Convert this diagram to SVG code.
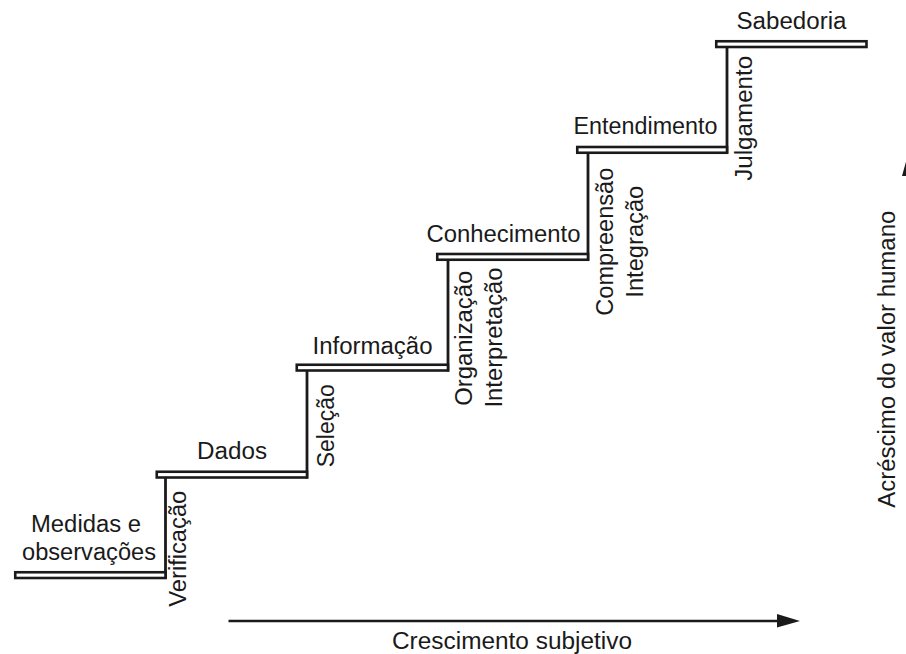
<svg xmlns="http://www.w3.org/2000/svg" width="906" height="654" viewBox="0 0 906 654">
  <style>
    .step { fill: #ffffff; stroke: #1a1a1a; stroke-width: 2.6; }
    .riser { stroke: #1a1a1a; stroke-width: 2.8; fill: none; }
    .lbl { font-family: "Liberation Sans", Arial, Helvetica, sans-serif; font-size: 23px; fill: #1a1a1a; }
    .mid { text-anchor: middle; }
    .axis { stroke: #1a1a1a; stroke-width: 2.6; fill: none; }
    .head { fill: #1a1a1a; }
  </style>

  <!-- risers joining each step to the one above -->
  <g id="connectors">
    <line class="riser" x1="165.5" y1="477.5" x2="165.5" y2="579"/>
    <line class="riser" x1="307" y1="370.5" x2="307" y2="478.5"/>
    <line class="riser" x1="448" y1="259.75" x2="448" y2="371.5"/>
    <line class="riser" x1="588" y1="152.75" x2="588" y2="260.75"/>
    <line class="riser" x1="727" y1="47" x2="727" y2="153.75"/>
  </g>

  <!-- steps -->
  <g id="step-medidas">
    <rect class="step" x="15.25" y="572.25" width="150.25" height="5.75"/>
    <text class="lbl mid" x="86" y="531.5" textLength="110" lengthAdjust="spacingAndGlyphs">Medidas e</text>
    <text class="lbl mid" x="89" y="559.5" textLength="134" lengthAdjust="spacingAndGlyphs">observações</text>
  </g>
  <g id="step-dados">
    <rect class="step" x="156.75" y="471.75" width="150.25" height="5.75"/>
    <text class="lbl mid" x="232" y="459" textLength="70" lengthAdjust="spacingAndGlyphs">Dados</text>
  </g>
  <g id="step-informacao">
    <rect class="step" x="296.75" y="364.75" width="151.25" height="5.75"/>
    <text class="lbl mid" x="372.5" y="354" textLength="120" lengthAdjust="spacingAndGlyphs">Informação</text>
  </g>
  <g id="step-conhecimento">
    <rect class="step" x="437.25" y="254" width="150.75" height="5.75"/>
    <text class="lbl mid" x="503.5" y="242" textLength="154" lengthAdjust="spacingAndGlyphs">Conhecimento</text>
  </g>
  <g id="step-entendimento">
    <rect class="step" x="577.25" y="147" width="149.75" height="5.75"/>
    <text class="lbl mid" x="645.5" y="134" textLength="144" lengthAdjust="spacingAndGlyphs">Entendimento</text>
  </g>
  <g id="step-sabedoria">
    <rect class="step" x="716.25" y="41.25" width="150.25" height="5.75"/>
    <text class="lbl mid" x="791.5" y="29.3" textLength="110" lengthAdjust="spacingAndGlyphs">Sabedoria</text>
  </g>

  <!-- transition labels along the risers -->
  <g id="riser-verificacao">
    <text class="lbl mid" transform="translate(186,548.7) rotate(-90)" textLength="116" lengthAdjust="spacingAndGlyphs">Verificação</text>
  </g>
  <g id="riser-selecao">
    <text class="lbl mid" transform="translate(333.5,425.8) rotate(-90)" textLength="83" lengthAdjust="spacingAndGlyphs">Seleção</text>
  </g>
  <g id="riser-organizacao">
    <text class="lbl mid" transform="translate(472,338.3) rotate(-90)" textLength="135" lengthAdjust="spacingAndGlyphs">Organização</text>
    <text class="lbl mid" transform="translate(501.5,337.5) rotate(-90)" textLength="140" lengthAdjust="spacingAndGlyphs">Interpretação</text>
  </g>
  <g id="riser-compreensao">
    <text class="lbl mid" transform="translate(613,241.7) rotate(-90)" textLength="148" lengthAdjust="spacingAndGlyphs">Compreensão</text>
    <text class="lbl mid" transform="translate(643,241.7) rotate(-90)" textLength="112" lengthAdjust="spacingAndGlyphs">Integração</text>
  </g>
  <g id="riser-julgamento">
    <text class="lbl mid" transform="translate(752,118.3) rotate(-90)" textLength="125" lengthAdjust="spacingAndGlyphs">Julgamento</text>
  </g>

  <!-- axes -->
  <g id="axis-x">
    <line class="axis" x1="228.5" y1="621" x2="779" y2="621"/>
    <polygon class="head" points="777,614 800,621 777,627.5"/>
    <text class="lbl mid" x="512" y="648.5" textLength="240" lengthAdjust="spacingAndGlyphs">Crescimento subjetivo</text>
  </g>
  <g id="axis-y">
    <polygon class="head" points="902,176 908.5,153 915,176"/>
    <text class="lbl mid" transform="translate(895,359.2) rotate(-90)" textLength="297" lengthAdjust="spacingAndGlyphs">Acréscimo do valor humano</text>
  </g>
</svg>
